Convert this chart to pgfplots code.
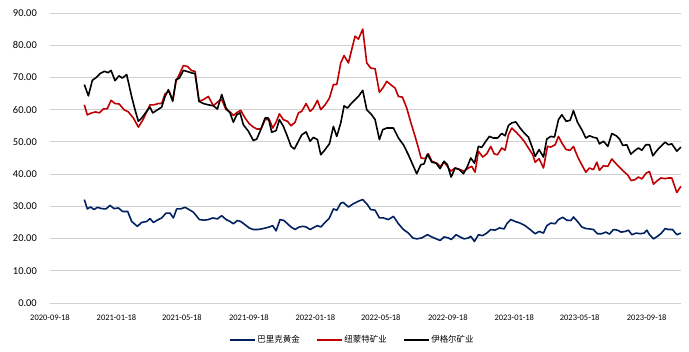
\documentclass[border=0pt]{standalone}
\usepackage{pgfplots}
\pgfplotsset{compat=1.18}
\usepackage{fontspec}
\setmainfont{Carlito}
\newfontfamily\cjk{Noto Sans CJK SC}
\definecolor{bnav}{RGB}{0,32,96}
\definecolor{nred}{RGB}{192,0,0}
\begin{document}
\begin{tikzpicture}[x=1bp,y=1bp]
\path[use as bounding box] (0,0) rectangle (689,351);
\begin{axis}[at={(50bp,48bp)}, anchor=south west, width=631bp, height=290bp, scale only axis,
  xmin=0, xmax=1158, ymin=0, ymax=90,
  ytick={0,10,...,90},
  yticklabel={\pgfmathprintnumber[fixed,fixed zerofill,precision=2]{\tick}},
  /pgf/number format/assume math mode=true,
  xtick={0,122,242,365,487,607,730,852,972,1095},
  xticklabels={2020-09-18,2021-01-18,2021-05-18,2021-09-18,2022-01-18,2022-05-18,2022-09-18,2023-01-18,2023-05-18,2023-09-18},
  axis line style={draw=none},
  major tick length=0pt,
  ymajorgrids, grid style={draw=black!18, line width=0.8pt},
  yticklabel style={font=\fontsize{10.5}{12}\selectfont, anchor=east, inner sep=0pt, xshift=-13bp},
  xticklabel style={font=\fontsize{8.5}{10}\selectfont, anchor=north, inner sep=0pt, yshift=-12bp},
  legend style={at={(0.479,-0.1276)}, anchor=center, draw=none, fill=none, legend columns=3,
    font=\cjk\fontsize{8.5}{10}\selectfont,
    /tikz/every even column/.append style={column sep=14bp}},
  legend image code/.code={\draw[#1] (0bp,0bp) -- (25bp,0bp);},
  every axis plot/.append style={line width=1.6pt, line join=round},
  clip=false
]
\addplot[bnav, no markers] coordinates {(63,32.1)(68.5,29.2)(74.6,29.8)(80.8,29.0)(86.9,29.7)(94.8,29.3)(102.8,29.2)(110.1,30.3)(117.5,29.3)(125.4,29.5)(133.4,28.4)(142.6,28.4)(149.9,25.3)(160.3,23.8)(168.3,25.0)(177.4,25.3)(183.6,26.2)(189.7,25.0)(198.9,25.9)(205,26.4)(212.9,27.9)(220.3,27.9)(226.4,26.4)(232.5,29.2)(239.8,29.2)(247.8,29.7)(255.1,29.0)(263.1,28.2)(274.1,25.9)(282.7,25.7)(290.6,25.9)(298.6,26.4)(307.2,26.1)(315.1,27.1)(323.1,25.9)(330.4,25.3)(336.5,24.6)(343.9,25.6)(350,25.3)(358,24.3)(365.3,23.3)(373.2,22.8)(380.6,22.8)(388.6,23.0)(395.9,23.3)(402.6,23.6)(408.7,24.0)(414.9,22.4)(422.2,25.9)(429.5,25.6)(435.7,24.6)(442.4,23.6)(449.7,22.8)(455.9,23.5)(463.8,23.8)(470,23.6)(477.3,22.8)(484.6,23.5)(490.8,24.0)(496.9,23.6)(504.8,25.0)(512.8,26.4)(520.1,29.2)(526.3,28.8)(533.6,31.0)(538.4,31.2)(547.6,29.8)(556.8,30.8)(566,31.6)(573.9,32.1)(581.3,30.8)(588.6,29.0)(596.6,28.8)(604.5,26.4)(611.9,26.4)(621,25.9)(630.2,26.9)(639.4,24.6)(648.6,22.8)(657.7,21.7)(665.7,20.2)(673,19.9)(682.2,20.2)(692.6,21.2)(700.6,20.5)(715.9,19.4)(723.2,20.5)(731.2,20.2)(736.1,19.7)(745.2,21.2)(752.6,20.5)(759.9,19.9)(767.9,20.2)(772.2,20.7)(778.9,19.1)(786.2,21.2)(793.6,20.9)(801.5,21.7)(808.9,22.8)(816.8,22.6)(824.8,23.3)(833.4,23.0)(838.3,24.6)(845.6,25.9)(853.6,25.3)(862.7,24.8)(871.9,24.0)(881.1,22.8)(890.3,21.5)(897.6,22.2)(905.6,21.7)(911.7,24.0)(919,24.8)(927,24.6)(933.1,25.9)(941.1,26.6)(948.4,25.7)(955.8,25.6)(960.6,26.7)(968,25.3)(975.9,23.6)(983.3,23.1)(990,23.0)(997.3,22.8)(1004.7,21.5)(1012.6,21.5)(1020,22.0)(1026.7,21.4)(1034.1,22.8)(1041.4,22.6)(1048.1,22.0)(1055.5,22.2)(1061.6,22.6)(1067.7,21.2)(1075.7,21.7)(1083,21.5)(1090.4,21.7)(1095.3,22.6)(1100.2,21.2)(1107.5,19.9)(1114.8,20.7)(1121,21.5)(1128.9,23.1)(1135,22.8)(1142.4,22.8)(1150.3,21.2)(1157.7,21.7)};
\addlegendentry{巴里克黄金}
\addplot[nred, no markers] coordinates {(63,61.5)(68.5,58.4)(76.5,59.0)(83.8,59.3)(90.6,59.0)(97.9,60.2)(105.2,60.3)(112,62.9)(119.3,61.9)(126.7,61.8)(135.8,60.0)(143.8,59.3)(153,57.4)(162.1,54.6)(170.1,56.7)(177.4,59.3)(183.6,61.5)(190.9,61.5)(198.9,61.9)(205,61.9)(211.1,64.9)(219,65.7)(225.2,62.9)(231.3,68.8)(238.6,71.4)(244.8,73.7)(252.1,73.4)(260,72.1)(266.2,71.9)(273.5,62.6)(281.5,63.1)(290.6,64.1)(299.8,61.2)(309,62.6)(315.1,63.1)(323.1,60.0)(330.4,59.3)(336.5,58.2)(343.9,59.2)(350,59.8)(358,57.4)(365.3,55.7)(373.2,54.6)(379.4,54.0)(387.3,54.0)(394.7,56.9)(402.6,56.9)(408.7,54.3)(414.9,56.1)(421,58.7)(428.3,56.9)(435.7,56.4)(442.4,55.0)(449.7,56.1)(455.9,59.0)(462,59.5)(470,61.9)(477.3,59.5)(483.4,60.5)(490.8,62.9)(496.9,60.0)(504.8,61.5)(512.8,63.6)(520.1,67.8)(526.3,67.8)(533.6,74.5)(539.7,76.8)(547.6,74.5)(559.8,82.8)(566,81.9)(573.9,85.0)(581.3,74.5)(588.6,72.9)(596.6,72.7)(604.5,65.4)(611.9,67.0)(618,68.8)(627.1,67.5)(633.3,66.7)(639.4,64.1)(646.7,63.9)(654.7,60.5)(662,56.1)(670,51.7)(676.1,48.1)(681,45.0)(688.3,44.8)(694.5,46.3)(700.6,44.0)(709.8,43.4)(715.9,42.4)(723.2,43.7)(729.3,42.4)(735.5,40.9)(743.4,41.9)(752.6,41.4)(759.9,40.9)(767.9,41.9)(774,42.4)(780.1,40.6)(786.2,47.1)(794.2,45.3)(801.5,46.3)(808.9,48.6)(815,46.3)(821.1,46.0)(829.1,48.1)(835.2,47.4)(841.3,52.2)(847.4,54.3)(856.6,52.8)(862.7,51.7)(870.1,50.2)(878,48.1)(886,46.0)(890.3,43.7)(897.6,44.8)(905.6,41.9)(912.9,48.6)(919,48.4)(927,49.1)(933.1,51.7)(939.2,49.7)(947.2,47.6)(954.5,47.4)(960.6,48.6)(968,45.5)(975.9,42.9)(983.3,40.6)(990,41.9)(997.3,41.4)(1003.5,43.7)(1008.4,41.2)(1015.7,42.6)(1023.7,42.4)(1031,44.7)(1039,43.2)(1046.3,41.9)(1053.6,40.7)(1059.8,39.8)(1066.5,38.0)(1073.8,38.3)(1079.9,39.1)(1086.1,38.5)(1094,40.3)(1100.1,40.8)(1107.5,36.9)(1114.8,38.0)(1121,38.8)(1128.9,38.6)(1135,38.8)(1141.1,38.8)(1150.3,34.3)(1157.7,36.2)};
\addlegendentry{纽蒙特矿业}
\addplot[black, no markers] coordinates {(63,67.8)(70.4,64.3)(77.7,69.1)(85.7,70.1)(91.8,71.2)(99.7,71.9)(107.1,71.5)(112,72.2)(119.3,69.0)(126.7,70.5)(132.8,69.8)(140.7,70.9)(149.9,64.0)(156,60.0)(162.1,56.4)(168.3,57.4)(177.4,59.5)(183.6,60.8)(188.5,59.0)(195.8,59.8)(205,60.8)(211.1,64.1)(217.2,66.2)(225.2,62.6)(231.3,69.3)(237.4,69.8)(244.8,72.2)(250.9,71.9)(260,71.4)(266.2,71.2)(273.5,62.6)(281.5,61.9)(290.6,61.5)(299.8,61.2)(307.2,60.2)(315.1,64.7)(323.1,60.5)(330.4,59.0)(336.5,56.1)(342.6,58.4)(348.8,59.0)(354.9,55.3)(364.1,53.3)(373.2,50.4)(379.4,50.9)(385.5,53.3)(394.7,57.4)(400.8,57.4)(406.9,53.0)(414.9,53.5)(421,56.9)(428.3,54.8)(435.7,51.7)(442.4,48.6)(448.5,47.8)(455.9,50.2)(462,52.2)(470,53.1)(477.3,50.2)(483.4,51.4)(490.8,50.7)(496.9,46.0)(504.8,47.6)(512.8,49.4)(520.1,54.8)(526.3,51.7)(533.6,55.9)(539.7,61.2)(545.8,60.5)(553.7,62.1)(559.8,63.1)(566,64.1)(573.9,66.0)(581.3,60.0)(590.4,58.4)(596.6,56.9)(604.5,50.7)(610.6,53.8)(618,54.3)(630.2,54.3)(639.4,51.2)(648.6,49.1)(657.7,46.0)(665.7,42.9)(673,40.1)(680.4,42.9)(686.5,43.2)(692.6,46.2)(700.6,43.7)(708.5,43.4)(715.9,41.7)(723.2,44.0)(729.3,42.9)(736.1,39.1)(743.4,41.9)(751.4,41.4)(758.7,40.1)(766,42.4)(772.2,45.0)(778.9,43.4)(786.2,48.6)(792.4,48.3)(799.7,50.2)(806.4,51.7)(813.8,51.2)(821.1,51.2)(829.1,52.6)(835.2,51.9)(841.3,55.1)(847.4,55.9)(854.8,56.2)(862.7,54.3)(870.1,52.8)(878,51.5)(885.4,48.1)(890.3,45.5)(897.6,47.6)(905.6,45.3)(911.7,50.9)(919.1,51.7)(925.8,51.5)(933.1,56.9)(939.3,58.4)(947.2,56.4)(954.5,56.7)(960.6,59.7)(968,56.1)(975.9,53.8)(983.3,51.2)(990,51.9)(997.4,51.4)(1003.5,51.2)(1008.4,49.4)(1015.7,50.2)(1023.7,48.6)(1031,52.6)(1039,51.9)(1045.1,50.9)(1051.2,48.9)(1058.6,49.1)(1065.9,46.2)(1073.9,47.4)(1080,48.1)(1086.1,47.4)(1093.4,49.1)(1100.2,49.1)(1106.3,45.7)(1113.6,47.3)(1121,48.6)(1128.9,49.9)(1135,49.1)(1141.1,49.4)(1150.3,47.1)(1157.7,48.4)};
\addlegendentry{伊格尔矿业}
\end{axis}
\end{tikzpicture}
\end{document}
